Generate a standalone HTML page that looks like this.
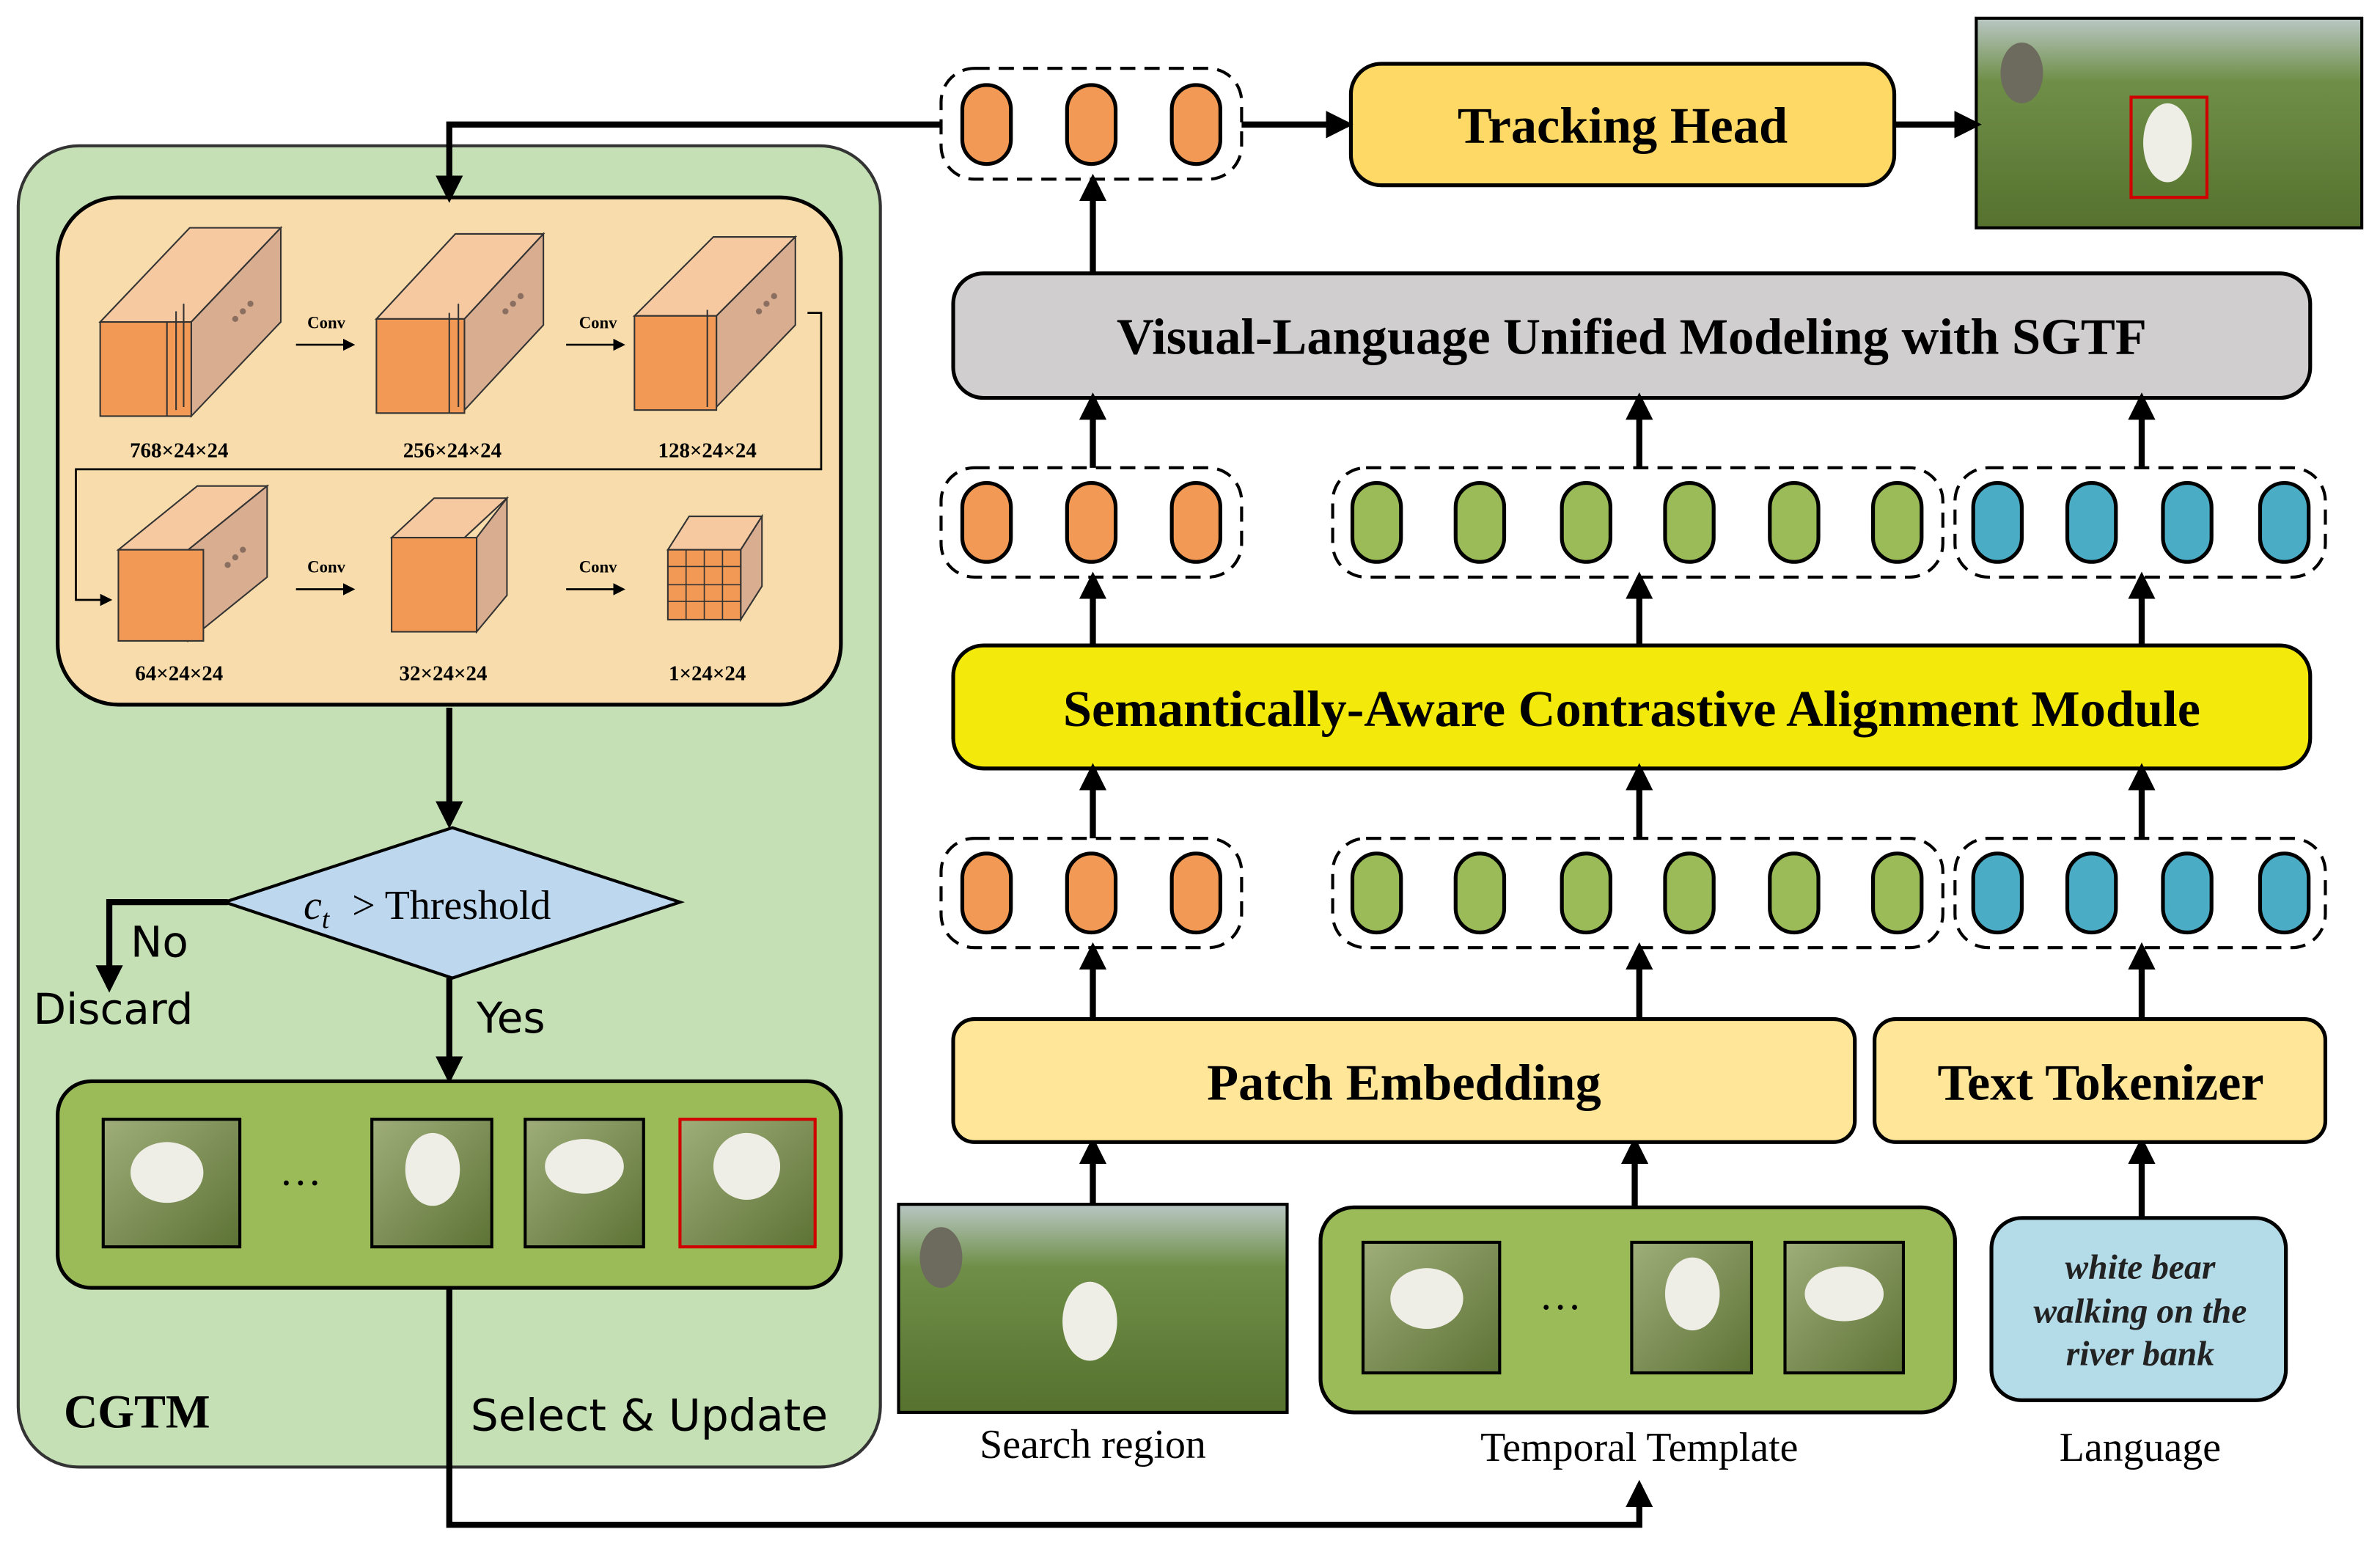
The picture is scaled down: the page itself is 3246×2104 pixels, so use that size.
<!DOCTYPE html>
<html><head><meta charset="utf-8"><style>
html,body{margin:0;padding:0;background:#fff;}
svg{display:block;}
text{font-family:"Liberation Serif",serif;}
.b{font-weight:bold;}
.s{font-family:"DejaVu Sans","Liberation Sans",sans-serif;}
</style></head><body>
<svg width="3246" height="2104" viewBox="0 0 1568 1016" preserveAspectRatio="none" xmlns="http://www.w3.org/2000/svg">
<defs>
<marker id="ah" markerWidth="8" markerHeight="8" refX="6" refY="4" orient="auto" markerUnits="userSpaceOnUse"><path d="M0,0 L8,4 L0,8 Z" fill="#000"/></marker>
<marker id="aH" viewBox="0 0 10 10" markerWidth="18" markerHeight="18" refX="8" refY="5" orient="auto" markerUnits="userSpaceOnUse"><path d="M0,0 L10,5 L0,10 Z" fill="#000"/></marker>
<linearGradient id="img" x1="0" y1="0" x2="0" y2="1"><stop offset="0" stop-color="#b9c7c4"/><stop offset="0.3" stop-color="#6f8f48"/><stop offset="1" stop-color="#56722e"/></linearGradient>
<linearGradient id="bear" x1="0" y1="0" x2="1" y2="1"><stop offset="0" stop-color="#9fae7a"/><stop offset="1" stop-color="#5d7235"/></linearGradient>
</defs>

<rect x="12" y="96" width="568" height="870" rx="40" fill="#c5e0b4" stroke="#333" stroke-width="2"/>
<rect x="38" y="130" width="516" height="334" rx="40" fill="#f8dcab" stroke="#000" stroke-width="2.5"/>

<g stroke="#333" stroke-width="1">
<polygon points="66,212 125,150 185,150 126,212" fill="#f6c9a0"/>
<polygon points="126,212 185,150 185,212 126,274" fill="#d9ad90"/>
<rect x="66" y="212" width="60" height="62" fill="#f29a55"/>
<line x1="110" y1="212" x2="110" y2="274"/><line x1="116" y1="205" x2="116" y2="270"/><line x1="121" y1="200" x2="121" y2="268"/>
<polygon points="248,210 300,154 358,154 306,210" fill="#f6c9a0"/>
<polygon points="306,210 358,154 358,214 306,270" fill="#d9ad90"/>
<rect x="248" y="210" width="58" height="62" fill="#f29a55"/>
<line x1="296" y1="206" x2="296" y2="272"/><line x1="302" y1="200" x2="302" y2="268"/>
<polygon points="418,208 470,156 524,156 472,208" fill="#f6c9a0"/>
<polygon points="472,208 524,156 524,214 472,268" fill="#d9ad90"/>
<rect x="418" y="208" width="54" height="62" fill="#f29a55"/>
<line x1="466" y1="204" x2="466" y2="268"/>
<polygon points="78,362 130,320 176,320 124,362" fill="#f6c9a0"/>
<polygon points="124,362 176,320 176,380 124,422" fill="#d9ad90"/>
<rect x="78" y="362" width="56" height="60" fill="#f29a55"/>
<polygon points="258,354 286,328 334,328 306,354" fill="#f6c9a0"/>
<polygon points="314,354 334,328 334,392 314,416" fill="#d9ad90"/>
<rect x="258" y="354" width="56" height="62" fill="#f29a55"/>
<polygon points="440,362 454,340 502,340 488,362" fill="#f6c9a0"/>
<polygon points="488,362 502,340 502,386 488,408" fill="#d9ad90"/>
<rect x="440" y="362" width="48" height="46" fill="#f29a55"/>
</g>
<g stroke="#333" stroke-width="0.8">
<line x1="452" y1="362" x2="452" y2="408"/><line x1="464" y1="362" x2="464" y2="408"/><line x1="476" y1="362" x2="476" y2="408"/>
<line x1="440" y1="373" x2="488" y2="373"/><line x1="440" y1="385" x2="488" y2="385"/><line x1="440" y1="396" x2="488" y2="396"/>
</g>
<g fill="#8a6e60"><circle cx="155" cy="210" r="2"/><circle cx="160" cy="205" r="2"/><circle cx="165" cy="200" r="2"/>
<circle cx="333" cy="205" r="2"/><circle cx="338" cy="200" r="2"/><circle cx="343" cy="195" r="2"/>
<circle cx="500" cy="205" r="2"/><circle cx="505" cy="200" r="2"/><circle cx="510" cy="195" r="2"/>
<circle cx="150" cy="372" r="2"/><circle cx="155" cy="367" r="2"/><circle cx="160" cy="362" r="2"/></g>

<g font-size="11" class="b" text-anchor="middle">
<text x="215" y="216">Conv</text><text x="394" y="216">Conv</text>
<text x="215" y="377">Conv</text><text x="394" y="377">Conv</text>
</g>
<g stroke="#000" stroke-width="1.3" fill="none" marker-end="url(#ah)">
<line x1="195" y1="227" x2="232" y2="227"/><line x1="373" y1="227" x2="410" y2="227"/>
<line x1="195" y1="388" x2="232" y2="388"/><line x1="373" y1="388" x2="410" y2="388"/>
<polyline points="532,206 541,206 541,309 50,309 50,395 72,395"/>
</g>
<g font-size="14" class="b" text-anchor="middle">
<text x="118" y="301">768×24×24</text><text x="298" y="301">256×24×24</text><text x="466" y="301">128×24×24</text>
<text x="118" y="448">64×24×24</text><text x="292" y="448">32×24×24</text><text x="466" y="448">1×24×24</text>
</g>

<polygon points="148,594 298,545 448,594 298,644" fill="#bdd7ee" stroke="#000" stroke-width="2"/>
<text x="200" y="605" font-size="27" font-style="italic">c</text><text x="212" y="611" font-size="18" font-style="italic">t</text>
<text x="232" y="605" font-size="27">&gt; Threshold</text>
<g stroke="#000" stroke-width="4" fill="none" marker-end="url(#aH)">
<line x1="296" y1="466" x2="296" y2="542"/>
<polyline points="150,594 72,594 72,650"/>
<line x1="296" y1="644" x2="296" y2="710"/>
</g>
<text x="86" y="630" font-size="28" class="s">No</text>
<text x="22" y="674" font-size="28" class="s">Discard</text>
<text x="314" y="680" font-size="28" class="s">Yes</text>

<rect x="38" y="712" width="516" height="136" rx="22" fill="#9bbb59" stroke="#000" stroke-width="2.5"/>
<g stroke="#000" stroke-width="2">
<rect x="68" y="737" width="90" height="84" fill="url(#bear)"/>
<rect x="245" y="737" width="79" height="84" fill="url(#bear)"/>
<rect x="346" y="737" width="78" height="84" fill="url(#bear)"/>
<rect x="448" y="737" width="89" height="84" fill="url(#bear)" stroke="#d00000"/>
</g>
<g fill="#eeeee6"><ellipse cx="110" cy="772" rx="24" ry="20"/><ellipse cx="285" cy="770" rx="18" ry="24"/><ellipse cx="385" cy="768" rx="26" ry="18"/><ellipse cx="492" cy="768" rx="22" ry="22"/></g>
<text x="198" y="780" font-size="28" text-anchor="middle">…</text>
<text x="42" y="940" font-size="31" class="b">CGTM</text>
<text x="310" y="942" font-size="29" class="s">Select &amp; Update</text>

<g stroke="#000" stroke-width="4" fill="none" marker-end="url(#aH)">
<polyline points="296,848 296,1004 1080,1004 1080,978"/>
<polyline points="620,82 296,82 296,130"/>
</g>

<rect x="620" y="45" width="198" height="73" rx="22" fill="#fff" stroke="#000" stroke-width="2" stroke-dasharray="10,6"/>
<g fill="#f29a55" stroke="#000" stroke-width="2.5">
<rect x="634" y="56" width="32" height="52" rx="16"/><rect x="703" y="56" width="32" height="52" rx="16"/><rect x="772" y="56" width="32" height="52" rx="16"/>
</g>
<rect x="890" y="42" width="358" height="80" rx="20" fill="#ffd966" stroke="#000" stroke-width="2.5"/>
<text x="1069" y="94" font-size="34" class="b" text-anchor="middle">Tracking Head</text>
<rect x="1302" y="12" width="254" height="138" fill="url(#img)" stroke="#000" stroke-width="2"/>
<ellipse cx="1332" cy="48" rx="14" ry="20" fill="#6d6a5e"/>
<ellipse cx="1428" cy="94" rx="16" ry="26" fill="#eeeee6"/>
<rect x="1404" y="64" width="50" height="66" fill="none" stroke="#d00000" stroke-width="2"/>

<rect x="628" y="180" width="894" height="82" rx="20" fill="#d0cece" stroke="#000" stroke-width="2.5"/>
<text x="1075" y="233" font-size="34" class="b" text-anchor="middle">Visual-Language Unified Modeling with SGTF</text>

<rect x="628" y="425" width="894" height="81" rx="20" fill="#f3ea0c" stroke="#000" stroke-width="2.5"/>
<text x="1075" y="478" font-size="34" class="b" text-anchor="middle">Semantically-Aware Contrastive Alignment Module</text>

<g id="row1">
<rect x="620" y="308" width="198" height="72" rx="22" fill="#fff" stroke="#000" stroke-width="2" stroke-dasharray="10,6"/>
<rect x="878" y="308" width="402" height="72" rx="22" fill="#fff" stroke="#000" stroke-width="2" stroke-dasharray="10,6"/>
<rect x="1288" y="308" width="244" height="72" rx="22" fill="#fff" stroke="#000" stroke-width="2" stroke-dasharray="10,6"/>
<g stroke="#000" stroke-width="2.5">
<g fill="#f29a55"><rect x="634" y="318" width="32" height="52" rx="16"/><rect x="703" y="318" width="32" height="52" rx="16"/><rect x="772" y="318" width="32" height="52" rx="16"/></g>
<g fill="#9bbb59"><rect x="891" y="318" width="32" height="52" rx="16"/><rect x="959" y="318" width="32" height="52" rx="16"/><rect x="1029" y="318" width="32" height="52" rx="16"/><rect x="1097" y="318" width="32" height="52" rx="16"/><rect x="1166" y="318" width="32" height="52" rx="16"/><rect x="1234" y="318" width="32" height="52" rx="16"/></g>
<g fill="#4bacc6"><rect x="1300" y="318" width="32" height="52" rx="16"/><rect x="1362" y="318" width="32" height="52" rx="16"/><rect x="1425" y="318" width="32" height="52" rx="16"/><rect x="1489" y="318" width="32" height="52" rx="16"/></g>
</g>
</g>
<use href="#row1" transform="translate(0,244)"/>

<g stroke="#000" stroke-width="4" fill="none" marker-end="url(#aH)">
<line x1="720" y1="180" x2="720" y2="118"/>
<line x1="818" y1="82" x2="888" y2="82"/>
<line x1="1248" y1="82" x2="1302" y2="82"/>
<line x1="720" y1="308" x2="720" y2="262"/><line x1="1080" y1="308" x2="1080" y2="262"/><line x1="1411" y1="308" x2="1411" y2="262"/>
<line x1="720" y1="425" x2="720" y2="380"/><line x1="1080" y1="425" x2="1080" y2="380"/><line x1="1411" y1="425" x2="1411" y2="380"/>
<line x1="720" y1="552" x2="720" y2="506"/><line x1="1080" y1="552" x2="1080" y2="506"/><line x1="1411" y1="552" x2="1411" y2="506"/>
<line x1="720" y1="671" x2="720" y2="624"/><line x1="1080" y1="671" x2="1080" y2="624"/><line x1="1411" y1="671" x2="1411" y2="624"/>
<line x1="720" y1="793" x2="720" y2="752"/><line x1="1077" y1="795" x2="1077" y2="752"/><line x1="1411" y1="802" x2="1411" y2="752"/>
</g>

<rect x="628" y="671" width="594" height="81" rx="14" fill="#ffe699" stroke="#000" stroke-width="2.5"/>
<text x="925" y="724" font-size="34" class="b" text-anchor="middle">Patch Embedding</text>
<rect x="1235" y="671" width="297" height="81" rx="14" fill="#ffe699" stroke="#000" stroke-width="2.5"/>
<text x="1384" y="724" font-size="34" class="b" text-anchor="middle">Text Tokenizer</text>

<rect x="592" y="793" width="256" height="137" fill="url(#img)" stroke="#000" stroke-width="2"/>
<ellipse cx="620" cy="828" rx="14" ry="20" fill="#6d6a5e"/>
<ellipse cx="718" cy="870" rx="18" ry="26" fill="#eeeee6"/>

<rect x="870" y="795" width="418" height="135" rx="22" fill="#9bbb59" stroke="#000" stroke-width="2.5"/>
<g stroke="#000" stroke-width="2">
<rect x="898" y="818" width="90" height="86" fill="url(#bear)"/>
<rect x="1075" y="818" width="79" height="86" fill="url(#bear)"/>
<rect x="1176" y="818" width="78" height="86" fill="url(#bear)"/>
</g>
<g fill="#eeeee6"><ellipse cx="940" cy="855" rx="24" ry="20"/><ellipse cx="1115" cy="852" rx="18" ry="24"/><ellipse cx="1215" cy="852" rx="26" ry="18"/></g>
<text x="1028" y="862" font-size="28" text-anchor="middle">…</text>

<rect x="1312" y="802" width="194" height="120" rx="20" fill="#b4dbe8" stroke="#000" stroke-width="2.5"/>
<g font-size="23" class="b" font-style="italic" text-anchor="middle" fill="#222">
<text x="1410" y="842">white bear</text><text x="1410" y="871">walking on the</text><text x="1410" y="899">river bank</text>
</g>
<g font-size="27" text-anchor="middle">
<text x="720" y="960">Search region</text><text x="1080" y="962">Temporal Template</text><text x="1410" y="962">Language</text>
</g>
</svg>
</body></html>
